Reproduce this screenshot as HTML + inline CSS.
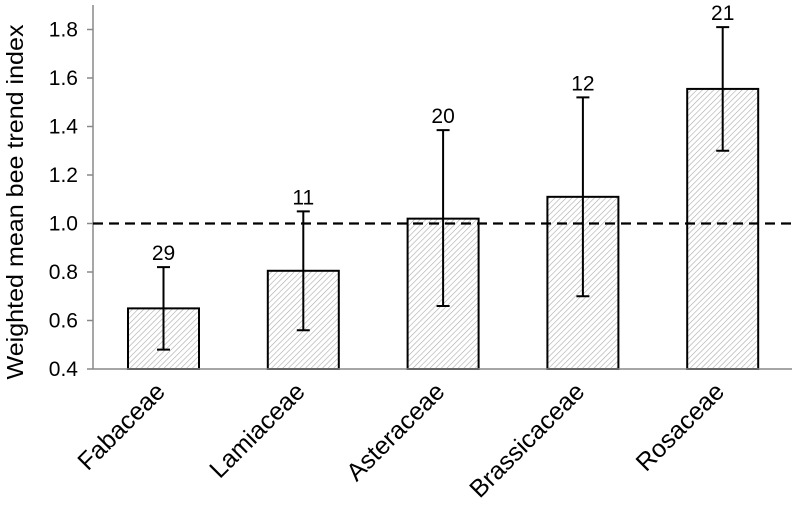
<!DOCTYPE html>
<html><head><meta charset="utf-8"><style>
html,body{margin:0;padding:0;background:#fff;}
svg{display:block;font-family:"Liberation Sans",Arial,sans-serif;}
</style></head><body>
<svg id="chart" width="796" height="507" viewBox="0 0 796 507" xmlns="http://www.w3.org/2000/svg">
<defs>
<pattern id="hatch" patternUnits="userSpaceOnUse" width="4" height="4" patternTransform="rotate(45)">
<rect width="4" height="4" fill="#fff"/>
<line x1="0" y1="0" x2="0" y2="4" stroke="#aaa" stroke-width="1.2"/>
</pattern>
</defs>
<g id="plot"></g>
</svg>
<script>
const categories = ["Fabaceae","Lamiaceae","Asteraceae","Brassicaceae","Rosaceae"];
const values = [0.65,0.805,1.02,1.11,1.555];
const errLow = [0.48,0.56,0.66,0.70,1.30];
const errHigh = [0.82,1.05,1.385,1.52,1.81];
const counts = ["29","11","20","12","21"];
const yTicks = [0.4,0.6,0.8,1.0,1.2,1.4,1.6,1.8];
const yTickLabels = ["0.4","0.6","0.8","1.0","1.2","1.4","1.6","1.8"];
const refValue = 1.0;

const NS="http://www.w3.org/2000/svg";
const g=document.getElementById('plot');
function y(v){return 369-(v-0.4)*242.5;}
function x(i){return 163.5+i*139.8;}
function mk(tag,attrs,parent){const e=document.createElementNS(NS,tag);for(const k in attrs)e.setAttribute(k,attrs[k]);(parent||g).appendChild(e);return e;}

let ax=mk('line',{x1:93,y1:5,x2:93,y2:369,stroke:'#888','stroke-width':1.5});


yTicks.forEach((t,i)=>{
  let tk=mk('line',{x1:87,y1:y(t),x2:93,y2:y(t),stroke:'#888','stroke-width':1.5});
  
  
  let tl=mk('text',{x:78,y:y(t)+7,'text-anchor':'end','font-size':21,fill:'#000'});
  tl.textContent=yTickLabels[i];
  
  
});
let yt=mk('text',{x:0,y:0,transform:'translate(23,202) rotate(-90)','text-anchor':'middle','font-size':23,fill:'#000',textLength:355,lengthAdjust:'spacingAndGlyphs'});
yt.textContent='Weighted mean bee trend index';



const bw=71;
categories.forEach((c,i)=>{
  const cx=x(i);
  let b=mk('rect',{x:cx-bw/2,y:y(values[i]),width:bw,height:y(0.4)-y(values[i]),fill:'url(#hatch)',stroke:'#000','stroke-width':2});
  
  
  let e=mk('path',{d:`M${cx},${y(errLow[i])}V${y(errHigh[i])}M${cx-6.5},${y(errLow[i])}H${cx+6.5}M${cx-6.5},${y(errHigh[i])}H${cx+6.5}`,stroke:'#000','stroke-width':2,fill:'none'});
  
  
  let n=mk('text',{x:cx,y:y(errHigh[i])-7,'text-anchor':'middle','font-size':21,fill:'#000'});
  n.textContent=counts[i];
  
  
  let xl=mk('text',{x:0,y:0,transform:`translate(${cx+3},${393}) rotate(-45)`,'text-anchor':'end','font-size':25,fill:'#000'});
  xl.textContent=c;
  
  
});
let xa=mk('line',{x1:93,y1:369,x2:792,y2:369,stroke:'#888','stroke-width':1.5});


let rl=mk('line',{x1:93,y1:y(refValue),x2:796,y2:y(refValue),stroke:'#000','stroke-width':2.2,'stroke-dasharray':'10,6'});


</script>
</body></html>
